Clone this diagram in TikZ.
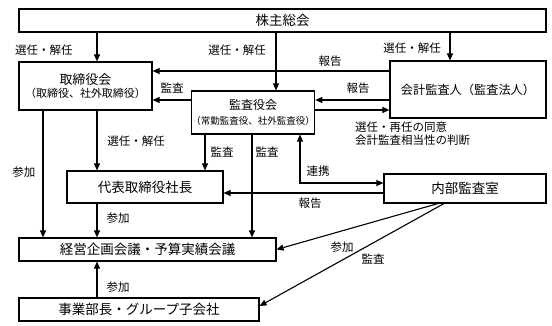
\documentclass[tikz,border=0pt]{standalone}
\usepackage{fontspec}
\setmainfont{Noto Sans CJK JP}
\usetikzlibrary{arrows.meta}
\tikzset{
  box/.style={draw, line width=1.1pt, inner sep=0pt, align=center},
  arr/.style={line width=1.1pt, -{Triangle[length=7pt,width=6pt]}},
  lbl/.style={inner sep=0pt, font=\fontsize{11.5}{13}\selectfont},
}
\begin{document}
\begin{tikzpicture}[x=1pt,y=-1pt]
\useasboundingbox (0,0) rectangle (552,326);
% helper coordinates
\coordinate (x43) at (43,0);
\coordinate (x97) at (97,0);
\coordinate (x205) at (205,0);
\coordinate (x252) at (252,0);
\coordinate (x276) at (276,0);
\coordinate (x300) at (300,0);
\coordinate (x438) at (438,0);
\coordinate (x444) at (444,0);
\coordinate (x450) at (450,0);
\coordinate (y71) at (0,71);
\coordinate (y100) at (0,100);
\coordinate (y110) at (0,110);
\coordinate (y183) at (0,183);
\coordinate (y193) at (0,193);
\coordinate (y306) at (0,306);
% boxes
\node[box, minimum width=527pt, minimum height=23pt, font=\fontsize{13.5}{15}\selectfont] (sh) at (282.5,20.5) {株主総会};
\node[box, minimum width=133pt, minimum height=48pt] (bd) at (85.5,86)
  {{\fontsize{13}{15}\selectfont 取締役会}\\[1pt]{\fontsize{11}{13}\selectfont （取締役、社外取締役）}};
\node[box, minimum width=120pt, minimum height=43pt] (ab) at (253,112.5)
  {{\fontsize{12}{14}\selectfont 監査役会}\\[3pt]{\fontsize{9.5}{11}\selectfont （常勤監査役、社外監査役）}};
\node[box, minimum width=156pt, minimum height=57pt, font=\fontsize{12.2}{14}\selectfont] (ea) at (468,89.5) {会計監査人（監査法人）};
\node[box, minimum width=156pt, minimum height=32pt, font=\fontsize{13.5}{15}\selectfont] (ceo) at (145,187) {代表取締役社長};
\node[box, minimum width=162pt, minimum height=29pt, font=\fontsize{13.5}{15}\selectfont] (ia) at (465,188.5) {内部監査室};
\node[box, minimum width=257pt, minimum height=23pt, font=\fontsize{13.5}{15}\selectfont] (mtg) at (147.5,249.5) {経営企画会議・予算実績会議};
\node[box, minimum width=240pt, minimum height=23pt, font=\fontsize{13.5}{15}\selectfont] (div) at (139,309.5) {事業部長・グループ子会社};
% connectors
\draw[arr] (sh.south -| x97) -- (bd.north -| x97);
\draw[arr] (sh.south -| x276) -- (ab.north -| x276);
\draw[arr] (sh.south -| x450) -- (ea.north -| x450);
\draw[arr] (ea.west |- y71) -- (bd.east |- y71);
\draw[arr] (ab.west |- y100) -- (bd.east |- y100);
\draw[arr] (ea.west |- y100) -- (ab.east |- y100);
\draw[arr] (ab.east |- y110) -- (ea.west |- y110);
\draw[arr] (bd.south -| x97) -- (ceo.north -| x97);
\draw[arr] (bd.south -| x43) -- (mtg.north -| x43);
\draw[arr] (ab.south -| x205) -- (ceo.north -| x205);
\draw[arr] (ab.south -| x252) -- (mtg.north -| x252);
\draw[line width=1.1pt, {Triangle[length=7pt,width=6pt]}-{Triangle[length=7pt,width=6pt]}] (ab.south -| x300) |- (ia.west |- y183);
\draw[arr] (ia.west |- y193) -- (ceo.east |- y193);
\draw[arr] (ceo.south -| x97) -- (mtg.north -| x97);
\draw[arr] (ia.south -| x438) -- (mtg.east);
\draw[arr] (ia.south -| x444) -- (div.east |- y306);
\draw[arr] (div.north -| x97) -- (mtg.south -| x97);
% labels
\node[lbl] (l1) at (44,50) {選任・解任};
\node[lbl] (l2) at (237,50) {選任・解任};
\node[lbl] (l3) at (412,48) {選任・解任};
\node[lbl] (l4) at (330,61) {報告};
\node[lbl] (l5) at (172,88) {監査};
\node[lbl] (l6) at (358,88) {報告};
\node[lbl, anchor=west, align=left] (l7) at (355,134) {選任・再任の同意\\会計監査相当性の判断};
\node[lbl] (l8) at (136,141) {選任・解任};
\node[lbl] (l9) at (24,172) {参加};
\node[lbl] (l10) at (222,152) {監査};
\node[lbl] (l11) at (267,152) {監査};
\node[lbl] (l12) at (318,171) {連携};
\node[lbl] (l13) at (310,203) {報告};
\node[lbl] (l14) at (118,218) {参加};
\node[lbl] (l15) at (342,247) {参加};
\node[lbl] (l16) at (373,259) {監査};
\node[lbl] (l17) at (118,287) {参加};
\end{tikzpicture}
\end{document}
